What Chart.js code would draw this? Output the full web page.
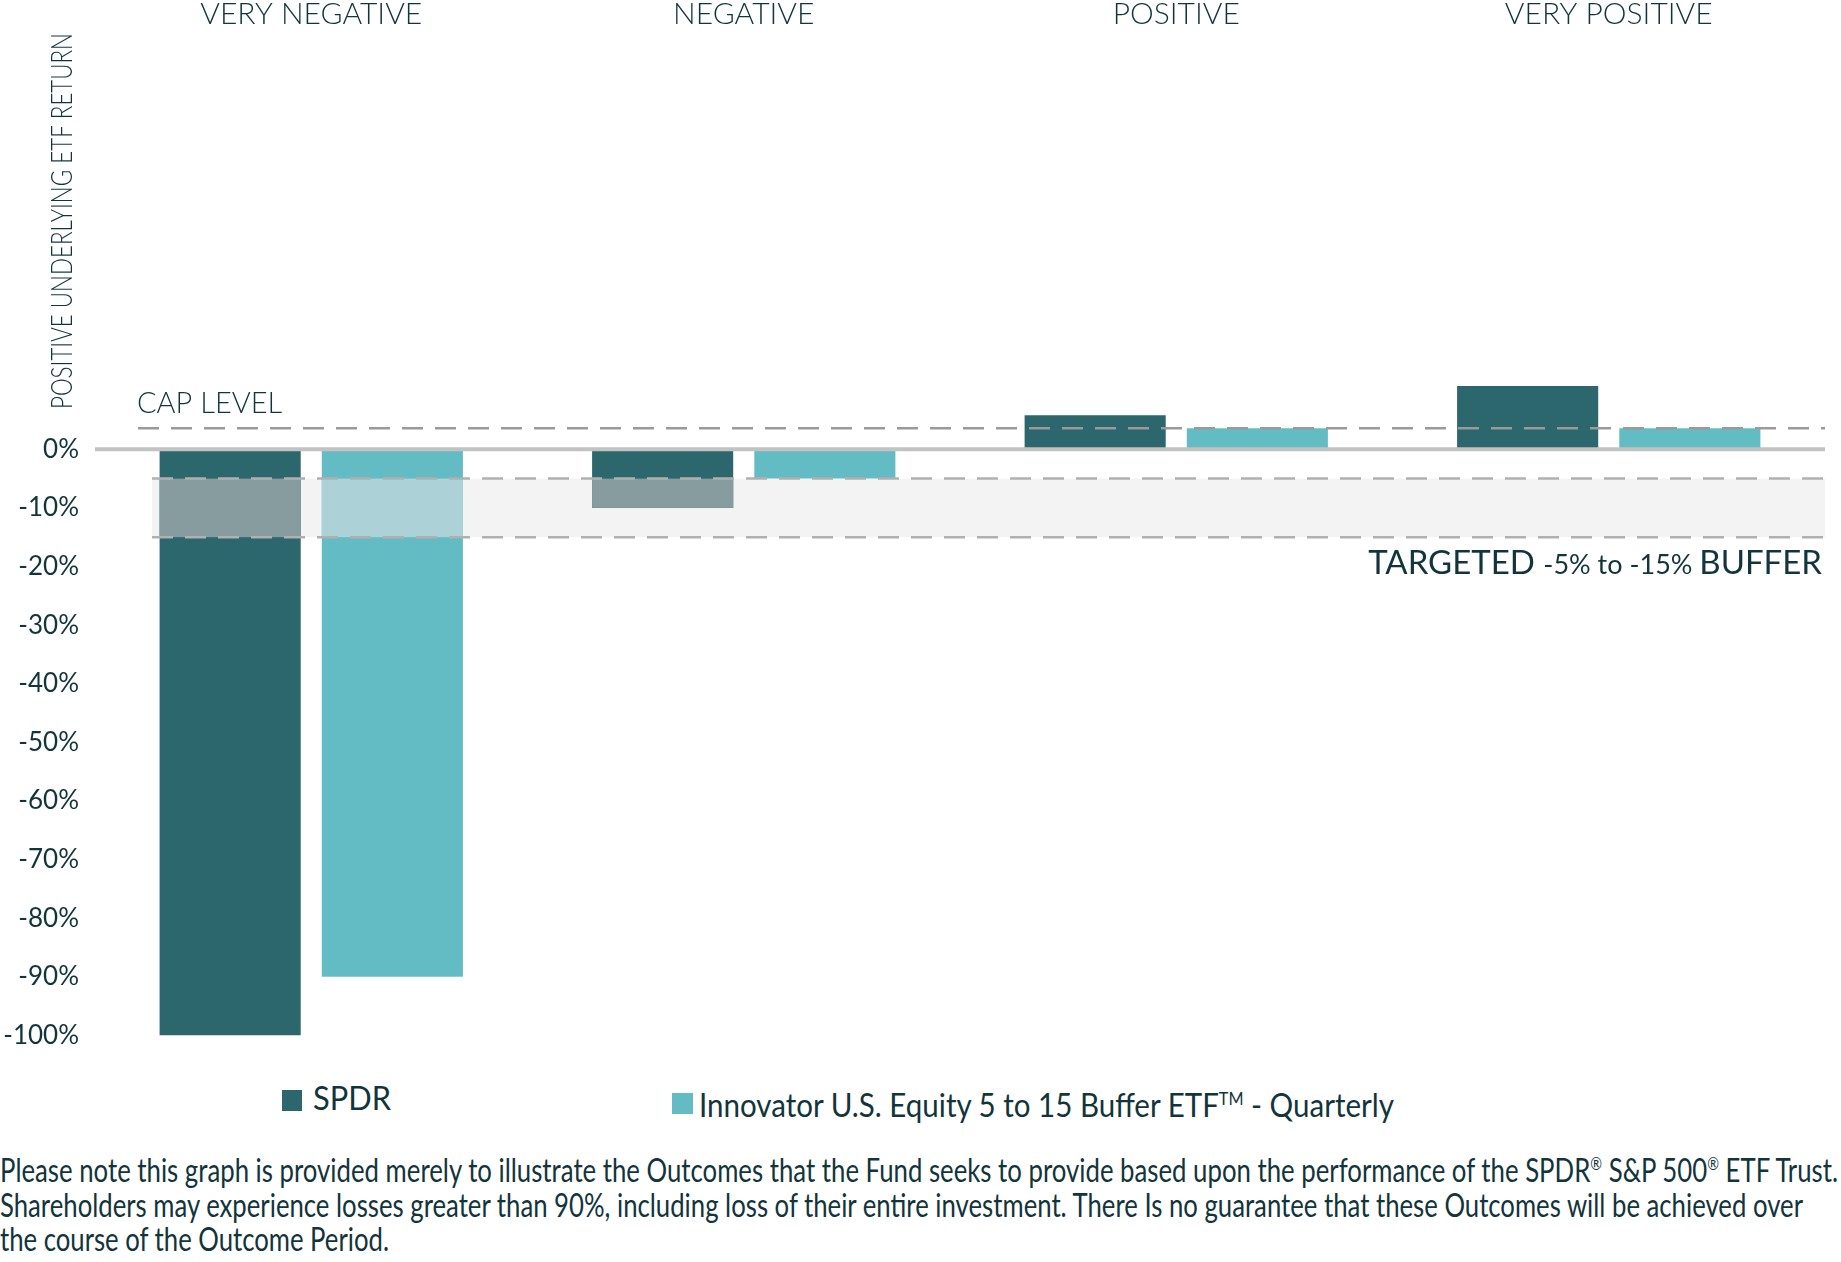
<!DOCTYPE html>
<html>
<head>
<meta charset="utf-8">
<script src="https://cdn.jsdelivr.net/npm/chart.js@4.4.1/dist/chart.umd.min.js"></script>
<style>
  html, body { margin: 0; padding: 0; background: #fff; }
  body { width: 1841px; height: 1262px; position: relative; overflow: hidden; font-family: Lato, sans-serif; color: #12343b; }
  #wrap { position: absolute; left: 0; top: 0; width: 1841px; height: 1067px; }
  .swatch { position: absolute; }
  .lbl { position: absolute; white-space: nowrap; font-size: 32px; line-height: 32px; transform-origin: 0 0; }
  .note { position: absolute; left: 0; white-space: nowrap; font-size: 32px; line-height: 35px; transform-origin: 0 0; }
  sup { font-size: 55%; line-height: 0; vertical-align: super; }
</style>
</head>
<body>
<div id="wrap"><canvas id="bufferChart"></canvas></div>

<div class="swatch" id="sw1" style="left:282px;top:1090px;width:20px;height:21px"></div>
<div class="lbl" id="lg1" style="left:313px;top:1082px">SPDR</div>
<div class="swatch" id="sw2" style="left:672px;top:1093px;width:21px;height:21px"></div>
<div class="lbl" id="lg2" style="left:699px;top:1089px">Innovator U.S. Equity 5 to 15 Buffer ETF<sup>TM</sup> - Quarterly</div>

<div class="note" id="n1" style="top:1152px">Please note this graph is provided merely to illustrate the Outcomes that the Fund seeks to provide based upon the performance of the SPDR<sup>®</sup> S&amp;P 500<sup>®</sup> ETF Trust.</div>
<div class="note" id="n2" style="top:1187px">Shareholders may experience losses greater than 90%, including loss of their entire investment. There Is no guarantee that these Outcomes will be achieved over</div>
<div class="note" id="n3" style="top:1221px">the course of the Outcome Period.</div>

<script>
// Data
const categories = ['VERY NEGATIVE', 'NEGATIVE', 'POSITIVE', 'VERY POSITIVE'];
const spdrReturns = [-100, -10, 5.8, 10.8];
const bufferEtfReturns = [-90, -5, 3.6, 3.6];
const capLevel = 3.6;
const bufferTop = -5;
const bufferBottom = -15;
const yMin = -100;
const yMax = 70;
const yStep = 10;

// Colors
const textColor = '#12343b';
const spdrColor = '#2b676c';
const etfColor = '#63bcc4';
const inBandColors = ['#879c9e', '#acd2d7'];

document.getElementById('sw1').style.background = spdrColor;
document.getElementById('sw2').style.background = etfColor;

const bufferPlugin = {
  id: 'bufferPlugin',
  beforeDatasetsDraw(chart) {
    const ctx = chart.ctx;
    const y = chart.scales.y;
    const area = chart.chartArea;
    const top = y.getPixelForValue(bufferTop);
    const bot = y.getPixelForValue(bufferBottom);
    ctx.save();
    ctx.fillStyle = '#f3f3f3';
    ctx.fillRect(152, top, area.right - 152, bot - top);
    ctx.restore();
  },
  afterDatasetsDraw(chart) {
    const ctx = chart.ctx;
    const y = chart.scales.y;
    const area = chart.chartArea;
    const bandTop = y.getPixelForValue(bufferTop);
    const bandBot = y.getPixelForValue(bufferBottom);

    // bars seen through the buffer band
    ctx.save();
    chart.data.datasets.forEach((ds, i) => {
      chart.getDatasetMeta(i).data.forEach(bar => {
        const p = bar.getProps(['x', 'y', 'base', 'width'], true);
        const t = Math.max(Math.min(p.y, p.base), bandTop);
        const b = Math.min(Math.max(p.y, p.base), bandBot);
        if (b > t) {
          ctx.fillStyle = inBandColors[i];
          ctx.fillRect(p.x - p.width / 2, t, p.width, b - t);
        }
      });
    });
    ctx.restore();

    function dashed(yy, x0, color) {
      ctx.save();
      ctx.setLineDash([21, 12]);
      ctx.strokeStyle = color;
      ctx.lineWidth = 2.5;
      ctx.beginPath();
      ctx.moveTo(x0, yy);
      ctx.lineTo(area.right, yy);
      ctx.stroke();
      ctx.restore();
    }
    dashed(bandTop, 152, '#b0b0b0');
    dashed(bandBot, 152, '#b0b0b0');
    dashed(y.getPixelForValue(capLevel), 138, '#9a9a9a');

    // zero line
    const y0 = y.getPixelForValue(0);
    ctx.save();
    ctx.strokeStyle = '#c2c2c2';
    ctx.lineWidth = 4;
    ctx.beginPath();
    ctx.moveTo(area.left, y0);
    ctx.lineTo(area.right, y0);
    ctx.stroke();

    // labels
    ctx.fillStyle = textColor;
    ctx.textBaseline = 'alphabetic';
    ctx.textAlign = 'left';
    ctx.font = '300 29px Lato';
    ctx.fillText('CAP LEVEL', 137, 413);

    const parts = [['TARGETED ', 33], [bufferTop + '% to ' + bufferBottom + '% ', 27], ['BUFFER', 33]];
    let x = 1822;
    for (let i = parts.length - 1; i >= 0; i--) {
      ctx.font = parts[i][1] + 'px Lato';
      x -= ctx.measureText(parts[i][0]).width;
      ctx.fillText(parts[i][0], x, 574);
    }

    // axis title, only along the positive side
    ctx.translate(62, 221);
    ctx.rotate(-Math.PI / 2);
    ctx.textAlign = 'center';
    ctx.textBaseline = 'middle';
    ctx.font = '300 30px Lato';
    ctx.fillText('POSITIVE UNDERLYING ETF RETURN', 0, 0, 376);
    ctx.restore();
  }
};

const ctxBuffer = document.getElementById('bufferChart').getContext('2d');
const bufferChart = new Chart(ctxBuffer, {
  type: 'bar',
  data: {
    labels: categories,
    datasets: [
      {
        label: 'SPDR',
        data: spdrReturns,
        backgroundColor: spdrColor,
        borderWidth: 0,
        categoryPercentage: 0.75,
        barPercentage: 0.87
      },
      {
        label: 'Innovator U.S. Equity 5 to 15 Buffer ETF™ - Quarterly',
        data: bufferEtfReturns,
        backgroundColor: etfColor,
        borderWidth: 0,
        categoryPercentage: 0.75,
        barPercentage: 0.87
      }
    ]
  },
  options: {
    responsive: true,
    maintainAspectRatio: false,
    animation: false,
    layout: { padding: { left: 0, right: 16, top: 0, bottom: 20 } },
    plugins: {
      legend: { display: false },
      tooltip: { enabled: false }
    },
    scales: {
      x: {
        position: 'top',
        grid: { display: false, drawTicks: false },
        border: { display: false },
        ticks: {
          color: textColor,
          padding: 7,
          font: { family: 'Lato', size: 30, weight: '300' }
        },
        afterFit: s => { s.height = 39; }
      },
      y: {
        min: yMin,
        max: yMax,
        grid: { display: false, drawTicks: false },
        border: { display: false },
        ticks: {
          stepSize: yStep,
          color: textColor,
          padding: 16,
          font: { family: 'Lato', size: 26 },
          callback: v => v + '%'
        },
        afterBuildTicks: s => { s.ticks = s.ticks.filter(t => t.value <= 0); },
        afterFit: s => { s.width = 95; }
      }
    }
  },
  plugins: [bufferPlugin]
});

// squeeze the html text lines to the widths of the original
function fitWidth(id, w) {
  const el = document.getElementById(id);
  const actual = el.getBoundingClientRect().width;
  el.style.transform = 'scaleX(' + (w / actual) + ')';
}
document.fonts.ready.then(() => {
  fitWidth('lg1', 78);
  fitWidth('lg2', 695);
  fitWidth('n1', 1838);
  fitWidth('n2', 1803);
  fitWidth('n3', 389);
});
</script>
</body>
</html>
